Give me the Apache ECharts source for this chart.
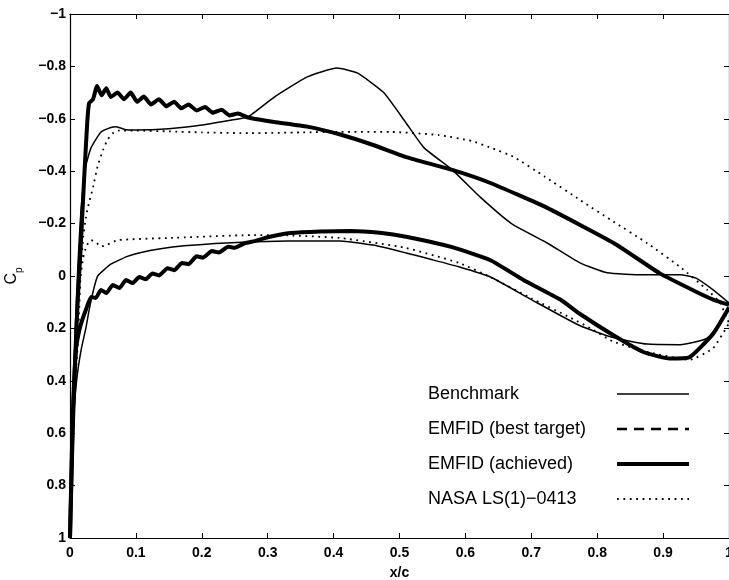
<!DOCTYPE html>
<html>
<head>
<meta charset="utf-8">
<script src="https://cdn.jsdelivr.net/npm/echarts@6/dist/echarts.min.js"></script>
<style>
  html, body { margin: 0; padding: 0; background: #fff; }
  #chart { width: 729px; height: 580px; }
</style>
</head>
<body>
<div id="chart"></div>
<script>
// x/c ticks and Cp ticks
var xTicks = [0, 0.1, 0.2, 0.3, 0.4, 0.5, 0.6, 0.7, 0.8, 0.9, 1];
var yTicks = [-1, -0.8, -0.6, -0.4, -0.2, 0, 0.2, 0.4, 0.6, 0.8, 1];
var legendNames = ['Benchmark', 'EMFID (best target)', 'EMFID (achieved)', 'NASA LS(1)\u22120413'];

// Benchmark, upper and lower surface  [x/c, Cp]
var benchUpper = [[0,1],[0.004,0.6],[0.008,0.2],[0.012,-0.04],[0.017,-0.26],[0.024,-0.42],[0.032,-0.49],[0.047,-0.55],[0.062,-0.567],[0.07,-0.57],[0.085,-0.558],[0.1,-0.557],[0.15,-0.562],[0.2,-0.576],[0.25,-0.597],[0.27,-0.607],[0.31,-0.683],[0.36,-0.76],[0.405,-0.794],[0.436,-0.775],[0.476,-0.70],[0.51,-0.584],[0.537,-0.49],[0.58,-0.405],[0.623,-0.3],[0.67,-0.2],[0.724,-0.126],[0.774,-0.05],[0.815,-0.012],[0.87,-0.005],[0.926,-0.005],[0.95,0.008],[0.976,0.053],[1,0.103]];
var benchLower = [[0,1],[0.004,0.6],[0.01,0.4],[0.017,0.28],[0.024,0.2],[0.029,0.13],[0.035,0.06],[0.042,0.0],[0.062,-0.045],[0.087,-0.075],[0.108,-0.09],[0.14,-0.105],[0.173,-0.115],[0.22,-0.124],[0.27,-0.13],[0.33,-0.134],[0.41,-0.134],[0.46,-0.118],[0.51,-0.088],[0.55,-0.062],[0.59,-0.035],[0.638,0.004],[0.70,0.09],[0.774,0.19],[0.824,0.235],[0.876,0.26],[0.926,0.262],[0.967,0.237],[1,0.13]];

// EMFID best target (not visible in plot)
var targetUpper = [];

// EMFID achieved
var achUpper = [[0,1],[0.004,0.6],[0.008,0.3],[0.012,0.08],[0.016,-0.1],[0.021,-0.35],[0.026,-0.58],[0.029,-0.66],[0.035,-0.675],[0.041,-0.725],[0.048,-0.69],[0.055,-0.717],[0.062,-0.683],[0.072,-0.70],[0.082,-0.675],[0.092,-0.70],[0.102,-0.665],[0.112,-0.685],[0.123,-0.655],[0.135,-0.675],[0.146,-0.648],[0.158,-0.665],[0.169,-0.64],[0.18,-0.655],[0.192,-0.632],[0.205,-0.645],[0.217,-0.623],[0.23,-0.635],[0.242,-0.613],[0.255,-0.62],[0.27,-0.605],[0.31,-0.588],[0.36,-0.57],[0.41,-0.54],[0.46,-0.5],[0.51,-0.454],[0.58,-0.405],[0.638,-0.355],[0.724,-0.26],[0.825,-0.126],[0.895,-0.01],[0.95,0.06],[0.976,0.09],[1,0.11]];
var achLower = [[0,1],[0.004,0.55],[0.009,0.28],[0.013,0.22],[0.017,0.18],[0.024,0.13],[0.032,0.08],[0.039,0.084],[0.047,0.053],[0.055,0.065],[0.065,0.034],[0.075,0.046],[0.085,0.015],[0.095,0.027],[0.105,0.004],[0.115,0.012],[0.125,-0.01],[0.135,-0.002],[0.148,-0.03],[0.158,-0.022],[0.17,-0.05],[0.18,-0.045],[0.192,-0.075],[0.202,-0.07],[0.215,-0.095],[0.226,-0.09],[0.24,-0.112],[0.25,-0.108],[0.265,-0.125],[0.28,-0.133],[0.3,-0.148],[0.335,-0.164],[0.38,-0.17],[0.426,-0.172],[0.47,-0.165],[0.51,-0.15],[0.58,-0.11],[0.638,-0.06],[0.688,0.015],[0.744,0.09],[0.774,0.145],[0.824,0.225],[0.87,0.29],[0.91,0.315],[0.94,0.31],[0.976,0.22],[1,0.12]];

// NASA LS(1)-0413
var nasaUpper = [[0,1],[0.006,0.5],[0.012,0.25],[0.016,0.0],[0.02,-0.15],[0.024,-0.22],[0.027,-0.26],[0.035,-0.34],[0.042,-0.42],[0.05,-0.48],[0.057,-0.52],[0.065,-0.545],[0.073,-0.555],[0.1,-0.555],[0.15,-0.552],[0.2,-0.548],[0.274,-0.545],[0.35,-0.548],[0.41,-0.55],[0.486,-0.55],[0.56,-0.538],[0.61,-0.515],[0.638,-0.49],[0.673,-0.455],[0.72,-0.38],[0.774,-0.29],[0.82,-0.215],[0.876,-0.125],[0.926,-0.034],[0.967,0.053],[0.986,0.1],[1,0.18]];
var nasaLower = [[0,1],[0.005,0.5],[0.01,0.22],[0.015,0.02],[0.02,-0.07],[0.025,-0.115],[0.032,-0.137],[0.04,-0.128],[0.047,-0.112],[0.055,-0.118],[0.073,-0.137],[0.148,-0.145],[0.274,-0.156],[0.33,-0.155],[0.41,-0.145],[0.51,-0.107],[0.59,-0.05],[0.638,0.004],[0.70,0.085],[0.76,0.16],[0.79,0.2],[0.824,0.25],[0.876,0.29],[0.94,0.32],[0.976,0.275],[1,0.18]];

var FONT = "'Liberation Sans', Arial, Helvetica, sans-serif";
var black = '#000';

// line looks per curve
var styles = {
  'Benchmark': { width: 1.5, type: 'solid' },
  'EMFID (best target)': { width: 2.6, type: [10, 7] },
  'EMFID (achieved)': { width: 4, type: 'solid' },
  'NASA LS(1)\u22120413': { width: 1.8, type: [1.8, 4.6] }
};

function fmtNum(v) {
  var s = (Math.abs(v) < 1e-9) ? '0' : String(Math.round(v * 10) / 10);
  return s.replace('-', '\u2212');
}

function line(name, data) {
  var st = styles[name];
  return {
    name: name,
    type: 'line',
    data: data,
    symbol: 'none',
    smooth: 0.15,
    silent: true,
    animation: false,
    itemStyle: { color: black },
    lineStyle: { color: black, width: st.width, type: st.type, cap: 'butt' }
  };
}

var chart = echarts.init(document.getElementById('chart'));

var tickStyle = { show: true, inside: true, length: 5, lineStyle: { color: black, width: 1 } };
var axisLine = { show: true, onZero: false, lineStyle: { color: black, width: 1.2 } };

chart.setOption({
  backgroundColor: '#fff',
  animation: false,
  grid: { left: 70, top: 14, width: 659, height: 524, outerBoundsMode: 'none', containLabel: false },
  legend: {
    data: legendNames.map(function (n) {
      return { name: n, lineStyle: { color: black, width: styles[n].width, type: styles[n].type, cap: 'butt' } };
    }),
    orient: 'vertical',
    left: 423,
    top: 380,
    align: 'right',
    itemWidth: 72,
    itemHeight: 20,
    itemGap: 17,
    selectedMode: false,
    itemStyle: { opacity: 0 },
    formatter: function (name) { return '{a|' + name + '}'; },
    textStyle: {
      fontFamily: FONT, fontSize: 18, color: black,
      rich: { a: { fontFamily: FONT, fontSize: 18, color: black, width: 184, align: 'left', lineHeight: 22 } }
    }
  },
  xAxis: [{
    type: 'value', min: 0, max: 1, interval: 0.1,
    name: 'x/c', nameLocation: 'middle', nameGap: 28,
    nameTextStyle: { fontFamily: FONT, fontSize: 14, fontWeight: 'bold', color: black },
    axisLine: axisLine, axisTick: tickStyle,
    axisLabel: { margin: 8, fontFamily: FONT, fontSize: 14, fontWeight: 'bold', color: black, formatter: fmtNum },
    splitLine: { show: false }
  }, {
    type: 'value', min: 0, max: 1, interval: 0.1, position: 'top',
    axisLine: axisLine, axisTick: tickStyle, axisLabel: { show: false }, splitLine: { show: false }
  }],
  yAxis: [{
    type: 'value', min: -1, max: 1, interval: 0.2, inverse: true,
    name: 'C{p|p}', nameLocation: 'middle', nameGap: 50, nameRotate: 90,
    nameTextStyle: { fontFamily: FONT, fontSize: 16, color: black, rich: { p: { fontFamily: FONT, fontSize: 10, color: black, verticalAlign: 'bottom', padding: [0, 0, -4, 0] } } },
    axisLine: axisLine, axisTick: tickStyle,
    axisLabel: { margin: 4, fontFamily: FONT, fontSize: 14, fontWeight: 'bold', color: black, formatter: fmtNum },
    splitLine: { show: false }
  }, {
    type: 'value', min: -1, max: 1, interval: 0.2, inverse: true, position: 'right',
    axisLine: axisLine, axisTick: tickStyle, axisLabel: { show: false }, splitLine: { show: false }
  }],
  series: [
    line('Benchmark', benchUpper),
    line('Benchmark', benchLower),
    line('EMFID (best target)', targetUpper),
    line('EMFID (achieved)', achUpper),
    line('EMFID (achieved)', achLower),
    line('NASA LS(1)\u22120413', nasaUpper),
    line('NASA LS(1)\u22120413', nasaLower)
  ]
});
</script>
</body>
</html>
